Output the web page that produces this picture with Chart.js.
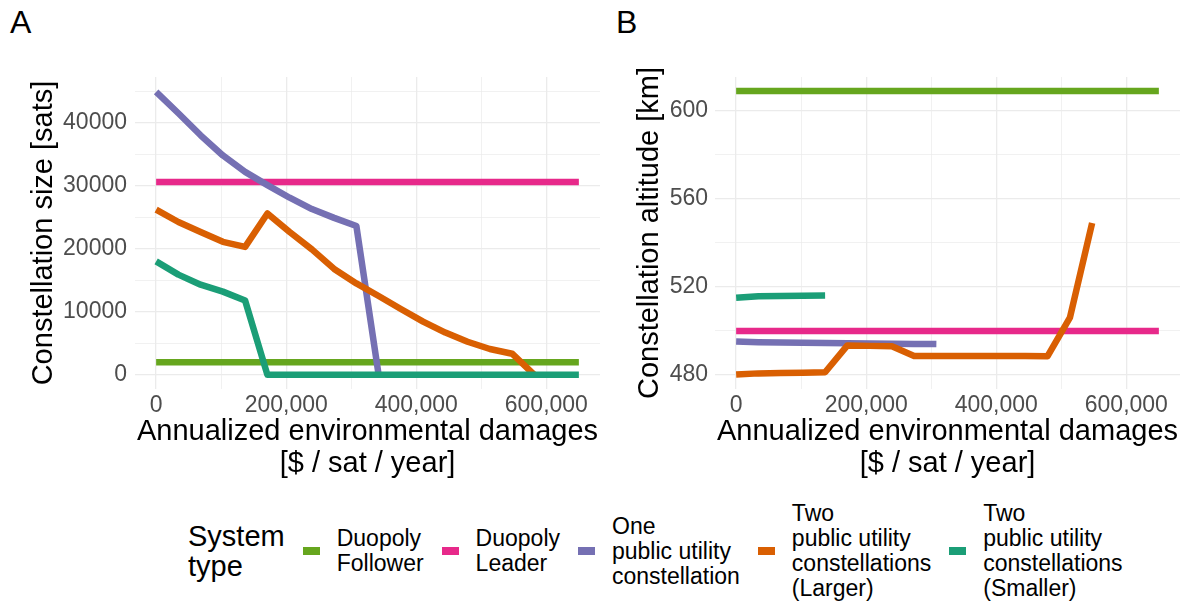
<!DOCTYPE html>
<html>
<head>
<meta charset="utf-8">
<script src="https://cdn.jsdelivr.net/npm/chart.js@4.4.1/dist/chart.umd.min.js"></script>
<style>
  html, body { margin: 0; padding: 0; background: #fff; }
  body { width: 1185px; height: 602px; position: relative; overflow: hidden;
         font-family: "Liberation Sans", Arial, sans-serif; color: #000; }
  canvas { position: absolute; top: 0; }
  #chartA { left: 0; }
  #chartB { left: 600px; }
  .tag { position: absolute; top: 2px; font-size: 32px; line-height: 40px; }
  .legend { position: absolute; left: 188px; top: 501px; height: 100px;
            display: flex; align-items: center; }
  .legend .title { font-size: 29px; line-height: 30px; margin-right: 18px; }
  .legend .key { width: 17px; height: 8px; margin-right: 17px; }
  .legend .label { font-size: 23px; line-height: 25px; white-space: pre-line; margin-right: 18px; }
</style>
</head>
<body>
<div class="tag" style="left:10px">A</div>
<div class="tag" style="left:616px">B</div>
<canvas id="chartA" width="600" height="480"></canvas>
<canvas id="chartB" width="585" height="480"></canvas>
<div class="legend" id="legend"><div class="title">System<br>type</div></div>

<script>
// x values: annualized environmental damages [$ / sat / year]
const damages = [0, 34200, 68400, 102600, 136800, 171100, 205300, 239500, 273700, 307900,
                 342100, 376300, 410500, 444700, 478900, 513200, 547400, 581600, 615800, 650000];

const seriesNames = ['Duopoly\nFollower', 'Duopoly\nLeader', 'One\npublic utility\nconstellation',
                     'Two\npublic utility\nconstellations\n(Larger)', 'Two\npublic utility\nconstellations\n(Smaller)'];
const seriesColors = ['#66A61E', '#E7298A', '#7570B3', '#D95F02', '#1B9E77'];

// panel A: constellation size [sats]
const sizeFollower = [2000, 2000, 2000, 2000, 2000, 2000, 2000, 2000, 2000, 2000,
                      2000, 2000, 2000, 2000, 2000, 2000, 2000, 2000, 2000, 2000];
const sizeLeader = [30600, 30600, 30600, 30600, 30600, 30600, 30600, 30600, 30600, 30600,
                    30600, 30600, 30600, 30600, 30600, 30600, 30600, 30600, 30600, 30600];
const sizeOne = [44900, 41500, 38000, 34800, 32200, 30100, 28100, 26300, 24900, 23600,
                 0, null, null, null, null, null, null, null, null, null];
const sizeLarger = [26200, 24250, 22650, 21100, 20300, 25600, 22650, 19900, 16800, 14500,
                    12500, 10450, 8450, 6700, 5250, 4100, 3350, 0, null, null];
const sizeSmaller = [18000, 15900, 14300, 13200, 11800, 0, 0, 0, 0, 0,
                     0, 0, 0, 0, 0, 0, 0, 0, 0, 0];

// panel B: constellation altitude [km]
const altFollower = [609, 609, 609, 609, 609, 609, 609, 609, 609, 609,
                     609, 609, 609, 609, 609, 609, 609, 609, 609, 609];
const altLeader = [500, 500, 500, 500, 500, 500, 500, 500, 500, 500,
                   500, 500, 500, 500, 500, 500, 500, 500, 500, 500];
const altOne = [495.2, 494.9, 494.7, 494.6, 494.5, 494.4, 494.3, 494.2, 494.1, 494.0,
                null, null, null, null, null, null, null, null, null, null];
const altLarger = [480.2, 480.7, 480.9, 481.0, 481.2, 493.4, 493.2, 493.0, 488.6, 488.6,
                   488.6, 488.6, 488.6, 488.6, 488.5, 506.0, 549.0, null, null, null];
const altSmaller = [515.1, 515.7, 515.9, 516.0, 516.1, null, null, null, null, null,
                    null, null, null, null, null, null, null, null, null, null];

// tick / grid values
const xGrid = [0, 100000, 200000, 300000, 400000, 500000, 600000];
const xLabelled = [0, 200000, 400000, 600000];
const sizeGrid = [0, 5000, 10000, 15000, 20000, 25000, 30000, 35000, 40000, 45000];
const sizeLabelled = [0, 10000, 20000, 30000, 40000];
const altGrid = [480, 500, 520, 540, 560, 580, 600];
const altLabelled = [480, 520, 560, 600];

const fontFamily = '"Liberation Sans", Arial, sans-serif';

function makePanel(id, opts) {
  const datasets = opts.series.map((vals, i) => ({
    label: seriesNames[i].replace(/\n/g, ' '),
    data: damages.map((d, j) => ({ x: d, y: vals[j] })),
    borderColor: seriesColors[i],
    backgroundColor: seriesColors[i],
    order: 5 - i
  }));

  return new Chart(document.getElementById(id), {
    type: 'line',
    data: { datasets },
    options: {
      responsive: false,
      animation: false,
      layout: { padding: { top: 77, right: opts.padRight, bottom: 0, left: 0 } },
      plugins: { legend: { display: false }, tooltip: { enabled: false } },
      elements: {
        point: { radius: 0 },
        line: { borderWidth: 6.5, borderJoinStyle: 'round', borderCapStyle: 'butt', tension: 0 }
      },
      scales: {
        x: {
          type: 'linear',
          min: -32500,
          max: 682500,
          afterBuildTicks: s => { s.ticks = xGrid.map(v => ({ value: v })); },
          afterFit: s => { s.height = 91; },
          border: { display: false },
          grid: {
            color: '#EBEBEB',
            drawTicks: false,
            lineWidth: c => xLabelled.includes(c.tick.value) ? 1.3 : 0.7
          },
          ticks: {
            autoSkip: false,
            maxRotation: 0,
            padding: 3,
            color: '#4D4D4D',
            font: { family: fontFamily, size: 23 },
            callback: v => xLabelled.includes(v) ? v.toLocaleString('en-US') : ''
          },
          title: {
            display: true,
            text: ['Annualized environmental damages', '[$ / sat / year]'],
            color: '#000',
            font: { family: fontFamily, size: 29, lineHeight: 1.1 },
            padding: { top: 0, bottom: 0 }
          }
        },
        y: {
          min: opts.yMin,
          max: opts.yMax,
          afterBuildTicks: s => { s.ticks = opts.yGrid.map(v => ({ value: v })); },
          afterFit: s => { s.width = opts.yWidth; },
          border: { display: false },
          grid: {
            color: '#EBEBEB',
            drawTicks: false,
            lineWidth: c => opts.yLabelled.includes(c.tick.value) ? 1.3 : 0.7
          },
          ticks: {
            padding: opts.tickPad,
            color: '#4D4D4D',
            font: { family: fontFamily, size: 23 },
            callback: v => opts.yLabelled.includes(v) ? String(v) : ''
          },
          title: {
            display: true,
            text: opts.yTitle,
            color: '#000',
            font: { family: fontFamily, size: 29 },
            padding: { top: opts.titlePad, bottom: 0 }
          }
        }
      }
    }
  });
}

makePanel('chartA', {
  series: [sizeFollower, sizeLeader, sizeOne, sizeLarger, sizeSmaller],
  yMin: -2250, yMax: 47250,
  yGrid: sizeGrid, yLabelled: sizeLabelled,
  yTitle: 'Constellation size [sats]',
  yWidth: 135, tickPad: 8, titlePad: 27, padRight: 0
});

makePanel('chartB', {
  series: [altFollower, altLeader, altOne, altLarger, altSmaller],
  yMin: 473.6, yMax: 615.4,
  yGrid: altGrid, yLabelled: altLabelled,
  yTitle: 'Constellation altitude [km]',
  yWidth: 115, tickPad: 7, titlePad: 33, padRight: 5
});

// legend
const legend = document.getElementById('legend');
seriesNames.forEach((name, i) => {
  const key = document.createElement('div');
  key.className = 'key';
  key.style.background = seriesColors[i];
  const label = document.createElement('div');
  label.className = 'label';
  label.textContent = name;
  legend.appendChild(key);
  legend.appendChild(label);
});
</script>
</body>
</html>
